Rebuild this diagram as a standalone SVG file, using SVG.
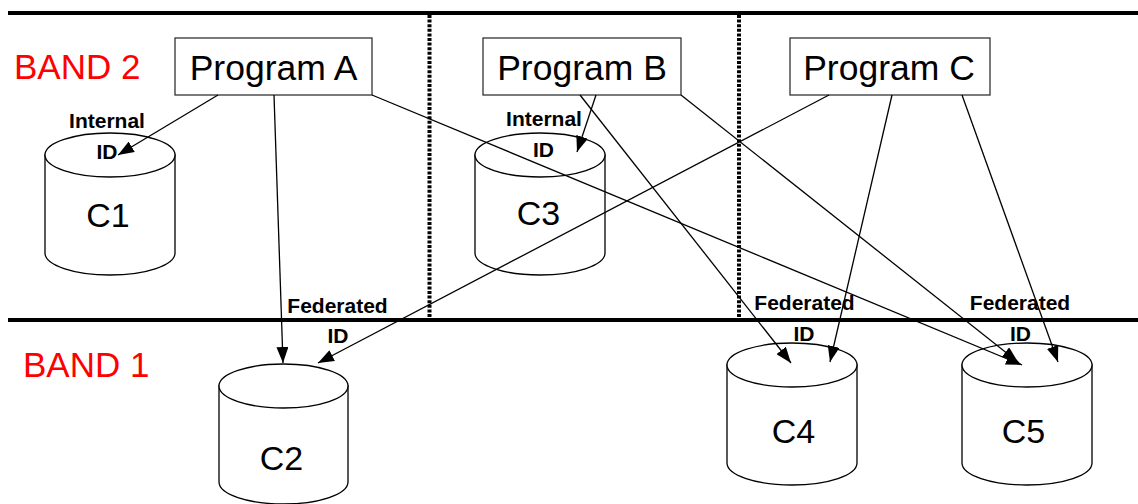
<svg xmlns="http://www.w3.org/2000/svg" width="1138" height="504" viewBox="0 0 1138 504">
  <style>
    .band { font-family: "Liberation Sans", Arial, sans-serif; font-size: 35px; fill: #ff0000; }
    .prog rect { fill: #ffffff; stroke: #333333; stroke-width: 1.3; }
    .prog text { font-family: "Liberation Sans", Arial, sans-serif; font-size: 35.5px; fill: #000000; text-anchor: middle; }
    .cyl path, .cyl ellipse { fill: #ffffff; stroke: #000000; stroke-width: 1.3; }
    .cyl text { font-family: "Liberation Sans", Arial, sans-serif; font-size: 34px; fill: #000000; text-anchor: middle; }
    .lbl { font-family: "Liberation Sans", Arial, sans-serif; font-size: 21px; font-weight: bold; fill: #000000; text-anchor: middle; }
    .rule { stroke: #000000; stroke-width: 4; }
    .divider { stroke: #000000; stroke-width: 4; stroke-dasharray: 3 1.6; }
    .conn line { stroke: #000000; stroke-width: 1.3; marker-end: url(#arrow); }
  </style>
  <defs>
    <marker id="arrow" markerUnits="userSpaceOnUse" markerWidth="16" markerHeight="12" refX="16" refY="6" orient="auto">
      <path d="M0,0 L16,6 L0,12 z" fill="#000000"/>
    </marker>
  </defs>

  <rect width="1138" height="504" fill="#ffffff"/>

  <!-- band boundaries and column dividers -->
  <g id="grid">
    <line class="rule" x1="8" y1="13" x2="1138" y2="13"/>
    <line class="rule" x1="8" y1="320" x2="1138" y2="320"/>
    <line class="divider" x1="429.5" y1="15" x2="429.5" y2="318"/>
    <line class="divider" x1="739" y1="15" x2="739" y2="318"/>
  </g>

  <text class="band" x="14" y="79">BAND 2</text>
  <text class="band" x="23" y="377">BAND 1</text>

  <!-- programs -->
  <g id="programA" class="prog">
    <rect x="175" y="38" width="197" height="57"/>
    <text x="273.5" y="80">Program A</text>
  </g>
  <g id="programB" class="prog">
    <rect x="483" y="38" width="198" height="57"/>
    <text x="582" y="80">Program B</text>
  </g>
  <g id="programC" class="prog">
    <rect x="790" y="38" width="200" height="57"/>
    <text x="889" y="80">Program C</text>
  </g>

  <!-- data stores -->
  <g id="C1" class="cyl">
    <path d="M45,155 L45,253 A65,22 0 0 0 175,253 L175,155 Z"/>
    <ellipse cx="110" cy="155" rx="65" ry="22"/>
    <text x="108" y="227">C1</text>
  </g>
  <g id="C3" class="cyl">
    <path d="M475,155 L475,253 A65,22 0 0 0 605,253 L605,155 Z"/>
    <ellipse cx="540" cy="155" rx="65" ry="22"/>
    <text x="538.5" y="225">C3</text>
  </g>
  <g id="C2" class="cyl">
    <path d="M219,386 L219,482 A64.5,22 0 0 0 348,482 L348,386 Z"/>
    <ellipse cx="283.5" cy="386" rx="64.5" ry="22"/>
    <text x="281.5" y="470">C2</text>
  </g>
  <g id="C4" class="cyl">
    <path d="M727,365 L727,463 A65,22 0 0 0 857,463 L857,365 Z"/>
    <ellipse cx="792" cy="365" rx="65" ry="22"/>
    <text x="793.5" y="443">C4</text>
  </g>
  <g id="C5" class="cyl">
    <path d="M962,365 L962,463 A65,22 0 0 0 1092,463 L1092,365 Z"/>
    <ellipse cx="1027" cy="365" rx="65" ry="22"/>
    <text x="1023.5" y="443">C5</text>
  </g>

  <!-- links from programs to stores -->
  <g id="connectors" class="conn">
    <line x1="218" y1="95" x2="118" y2="155"/>
    <line x1="274" y1="95" x2="283" y2="363"/>
    <line x1="372" y1="95" x2="1022" y2="365"/>
    <line x1="596" y1="95" x2="577" y2="152"/>
    <line x1="580" y1="95" x2="791" y2="363"/>
    <line x1="681" y1="95" x2="1018" y2="362"/>
    <line x1="829" y1="95" x2="318" y2="363"/>
    <line x1="892" y1="95" x2="830" y2="362"/>
    <line x1="962" y1="95" x2="1058" y2="362"/>
  </g>

  <!-- identifier labels -->
  <g id="labels">
    <text class="lbl" x="107" y="128">Internal</text>
    <text class="lbl" x="107" y="159">ID</text>
    <text class="lbl" x="544" y="126">Internal</text>
    <text class="lbl" x="543.5" y="157">ID</text>
    <text class="lbl" x="337.5" y="313">Federated</text>
    <text class="lbl" x="338" y="343">ID</text>
    <text class="lbl" x="804.5" y="310">Federated</text>
    <text class="lbl" x="804" y="341">ID</text>
    <text class="lbl" x="1020" y="310">Federated</text>
    <text class="lbl" x="1020.5" y="341">ID</text>
  </g>
</svg>
